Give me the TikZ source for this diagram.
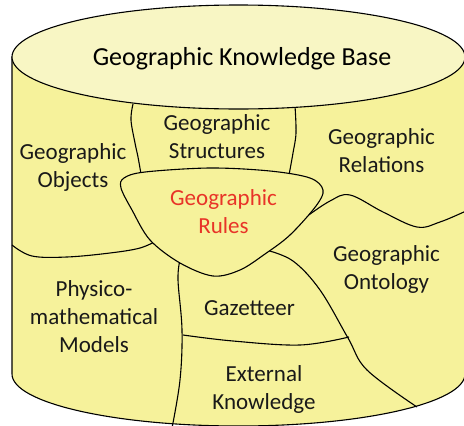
\documentclass[tikz,border=0pt]{standalone}
\usepackage{fontspec}
\setmainfont{Carlito}
\definecolor{sidefill}{RGB}{246,242,155}
\definecolor{topfill}{RGB}{248,246,196}
\definecolor{rulered}{RGB}{232,52,40}
\definecolor{txt}{RGB}{25,25,25}
\begin{document}
\begin{tikzpicture}[x=1pt,y=-1pt,line width=1.1pt,
  lbl/.style={font=\fontsize{23}{28}\selectfont,text=txt,align=center,inner sep=0pt},
  ttl/.style={font=\fontsize{26}{30}\selectfont,text=black,inner sep=0pt},
  divline/.style={draw=black,line width=1.1pt}]
\useasboundingbox (0,0) rectangle (464,426);
% cylinder side
\filldraw[fill=sidefill,draw=black] (12,57) -- (12,374)
  .. controls (12,402.7) and (113.5,426) .. (238.5,426)
  .. controls (363.5,426) and (465,402.7) .. (465,374) -- (465,57) -- cycle;
% dividing lines
\draw[divline] plot[smooth,tension=0.6] coordinates {(133,104) (131,120) (135,143) (138,157) (141,174)};
\draw[divline] plot[smooth,tension=0.6] coordinates {(295,106) (296,133) (293,153) (289,175)};
\draw[divline] plot[smooth,tension=0.6] coordinates {(12,245) (32,256) (67,257) (110,253) (140,248) (158,240)};
\draw[divline] plot[smooth,tension=0.6] coordinates {(180,260) (178,280) (182,330) (180,380) (172,428)};
\draw[divline] plot[smooth,tension=0.6] coordinates {(183,335) (233,341) (300,345) (349,337)};
\draw[divline] plot[smooth,tension=0.6] coordinates {(266,250) (293,261) (320,290) (348,338) (367,370) (417,407)};
\draw[divline] plot[smooth,tension=0.6] coordinates {(306,217) (330,201) (350,195) (383,212) (417,227) (440,222) (466,211)};
% Geographic Rules blob
\filldraw[fill=sidefill,draw=black] plot[smooth cycle,tension=0.55] coordinates {
  (213,276) (180,263) (150,240) (132,210) (121,188) (124,178) (145,172)
  (210,168) (270,171) (310,178) (323,190) (316,206) (290,235) (265,254) (240,270)};
% top ellipse
\filldraw[fill=topfill,draw=black] (238.5,57) ellipse [x radius=226.5,y radius=52];
% labels
\node[ttl] (title) at (242,59) {Geographic Knowledge Base};
\node[lbl] (objects) at (73,167.5) {Geographic\\Objects};
\node[lbl] (structures) at (217,137) {Geographic\\Structures};
\node[lbl] (relations) at (381.5,151) {Geographic\\Relations};
\node[lbl,text=rulered] (rules) at (223.5,211.5) {Geographic\\Rules};
\node[lbl] (ontology) at (386.5,269) {Geographic\\Ontology};
\node[lbl] (physico) at (94,317) {Physico-\\mathematical\\Models};
\node[lbl] (gazetteer) at (249.5,308.5) {Gazetteer};
\node[lbl] (external) at (264,389.5) {External\\Knowledge};
\end{tikzpicture}
\end{document}
